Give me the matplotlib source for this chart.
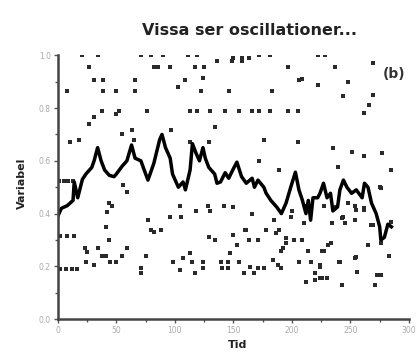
import numpy as np
import matplotlib
matplotlib.use("Agg")
from matplotlib import pyplot as plt
from matplotlib.ticker import MultipleLocator

# moving average line
line_x = [0, 3, 8, 13, 14, 17, 21, 24, 29, 31, 34, 37, 40, 44, 48, 50, 55, 59, 63, 66,
          71, 73, 77, 82, 87, 89, 92, 96, 98, 103, 107, 109, 113, 115, 118, 121, 124, 126,
          129, 134, 136, 139, 143, 146, 150, 153, 157, 161, 166, 168, 171, 176, 178, 182,
          187, 191, 195, 199, 203, 206, 209, 212, 214, 216, 218, 222, 224, 227, 230, 233,
          235, 239, 241, 244, 247, 251, 255, 260, 262, 265, 268, 272, 275, 276, 279, 282, 285]
line_y = [0.39, 0.42, 0.43, 0.45, 0.52, 0.46, 0.53, 0.55, 0.575, 0.60, 0.65, 0.60, 0.565,
          0.545, 0.54, 0.55, 0.58, 0.60, 0.66, 0.61, 0.60, 0.575, 0.527, 0.59, 0.68, 0.70,
          0.65, 0.61, 0.55, 0.50, 0.52, 0.49, 0.565, 0.665, 0.63, 0.60, 0.65, 0.61, 0.575,
          0.55, 0.515, 0.52, 0.555, 0.534, 0.57, 0.595, 0.54, 0.515, 0.534, 0.50, 0.527,
          0.50, 0.477, 0.45, 0.425, 0.40, 0.44, 0.50, 0.557, 0.49, 0.45, 0.40, 0.45, 0.375,
          0.46, 0.46, 0.477, 0.515, 0.46, 0.477, 0.41, 0.425, 0.49, 0.527, 0.50, 0.477,
          0.49, 0.46, 0.515, 0.50, 0.44, 0.40, 0.35, 0.30, 0.31, 0.36, 0.35]

# raw observations
pts_x = [21, 34, 71, 80, 90, 111, 119, 150, 157, 163, 172, 181, 222, 228,
         27, 82, 86, 96, 117, 125, 136, 149, 157, 197, 209, 237, 269,
         31, 39, 66, 109, 124, 206, 222, 248,
         8, 39, 50, 66, 103, 122, 146, 183, 244, 269,
         38, 52, 76, 113, 119, 130, 143, 155, 166, 172, 181, 197, 205, 262, 266, 50, 31,
         27, 134, 63, 10, 18, 55, 65, 97, 113, 129, 176, 205, 235, 251, 262, 277,
         172, 285, 189, 239, 56, 59, 275, 44, 77, 80, 41, 96, 105, 104, 118, 128, 130,
         142, 150, 161, 178, 189, 199, 210, 243, 255, 262, 268, 285,
         1, 5, 9, 13, 2, 8, 14, 2, 7, 12, 16,
         23, 25, 34, 38, 41, 59, 24, 31, 45, 50, 55, 75, 71, 71, 98, 104, 107, 113, 115,
         117, 124, 124, 139, 145, 140, 145, 147, 153, 155, 159, 164, 168, 171, 176, 184,
         188, 191, 192, 195, 206, 212, 214, 216, 220, 220, 224, 224, 230, 227, 231, 241,
         243, 255, 256, 265, 271, 273, 276, 276, 283,
         46, 42, 44, 82, 88, 185, 200, 212, 215, 227, 238, 166, 129, 134, 150, 160, 163,
         171, 186, 195, 202, 191, 276, 248, 254, 262, 244, 234, 245, 254, 269, 209, 233,
         226, 224, 240, 254, 226, 115]
pts_y = [1.0, 1.0, 1.0, 1.0, 1.0, 1.0, 1.0, 0.99, 0.99, 0.99, 1.0, 1.0, 1.0, 1.0,
         0.955, 0.955, 0.955, 0.955, 0.955, 0.955, 0.977, 0.977, 0.977, 0.955, 0.91, 0.955, 0.97,
         0.905, 0.905, 0.905, 0.905, 0.913, 0.905, 0.886, 0.90,
         0.864, 0.864, 0.864, 0.864, 0.88, 0.864, 0.864, 0.864, 0.845, 0.85,
         0.79, 0.79, 0.79, 0.79, 0.79, 0.79, 0.79, 0.79, 0.79, 0.79, 0.79, 0.79, 0.79, 0.78,
         0.81, 0.777, 0.765,
         0.74, 0.727, 0.716, 0.67, 0.68, 0.70, 0.68, 0.716, 0.67, 0.67, 0.68, 0.67, 0.65,
         0.633, 0.62, 0.63,
         0.60, 0.565, 0.565, 0.575, 0.51, 0.48, 0.50, 0.44, 0.375, 0.337, 0.35, 0.386,
         0.386, 0.43, 0.41, 0.43, 0.41, 0.43, 0.424, 0.337, 0.337, 0.337, 0.386, 0.364,
         0.383, 0.413, 0.413, 0.356, 0.367,
         0.525, 0.525, 0.525, 0.525, 0.315, 0.315, 0.315, 0.19, 0.19, 0.19, 0.19,
         0.27, 0.254, 0.27, 0.24, 0.24, 0.27, 0.216, 0.205, 0.216, 0.216, 0.24, 0.24, 0.193,
         0.174, 0.216, 0.186, 0.23, 0.25, 0.216, 0.174, 0.216, 0.193, 0.216, 0.216, 0.193,
         0.193, 0.25, 0.28, 0.216, 0.174, 0.197, 0.174, 0.193, 0.193, 0.223, 0.205, 0.193,
         0.27, 0.29, 0.216, 0.14, 0.26, 0.216, 0.174, 0.148, 0.205, 0.155, 0.155, 0.26,
         0.28, 0.216, 0.13, 0.235, 0.178, 0.28, 0.13, 0.167, 0.167, 0.29, 0.24,
         0.43, 0.405, 0.30, 0.33, 0.337, 0.375, 0.41, 0.43, 0.42, 0.43, 0.424, 0.40, 0.31,
         0.30, 0.318, 0.337, 0.30, 0.30, 0.326, 0.307, 0.30, 0.26, 0.496, 0.44, 0.43, 0.42,
         0.386, 0.364, 0.364, 0.375, 0.356, 0.30, 0.288, 0.26, 0.197, 0.216, 0.23, 0.155, 0.216]

x_ticks = [0, 50, 100, 150, 200, 250, 300]
y_ticks = [0.0, 0.2, 0.4, 0.6, 0.8, 1.0]

fig = plt.figure(figsize=(4.19, 3.59), dpi=100)
ax = fig.add_axes([0.138, 0.111, 0.838, 0.735])

ax.plot(pts_x, pts_y, linestyle="none", marker="s", markersize=2.6,
        color="#2a2a2a", markeredgewidth=0)
ax.plot(line_x, line_y, color="black", linewidth=2.5, solid_joinstyle="round")

ax.set_xlim(0, 300)
ax.set_ylim(0, 1.0)
ax.set_xticks(x_ticks)
ax.set_yticks(y_ticks)
ax.set_xticklabels([str(t) for t in x_ticks])
ax.set_yticklabels(["%.1f" % t for t in y_ticks])
ax.xaxis.set_minor_locator(MultipleLocator(25))
ax.yaxis.set_minor_locator(MultipleLocator(0.1))
ax.tick_params(which="both", direction="out", length=3, width=1, color="#555555",
               labelsize=5.5, labelcolor="#aaaaaa", pad=2)
ax.tick_params(which="minor", length=2)

for s in ["top", "right"]:
    ax.spines[s].set_visible(False)
for s in ["left", "bottom"]:
    ax.spines[s].set_linewidth(1.8)
    ax.spines[s].set_color("#444444")

fig.text(0.595, 0.915, "Vissa ser oscillationer...", fontsize=11.5,
         fontweight="bold", ha="center", va="center", color="#222222")
fig.text(0.566, 0.04, "Tid", fontsize=8, fontweight="bold", ha="center",
         va="center", color="#222222")
fig.text(0.052, 0.49, "Variabel", fontsize=8, fontweight="bold", ha="center",
         va="center", rotation=90, color="#222222")
fig.text(0.94, 0.795, "(b)", fontsize=10, fontweight="bold", ha="center",
         va="center", color="#333333")

fig.savefig("out.png", dpi=100)
